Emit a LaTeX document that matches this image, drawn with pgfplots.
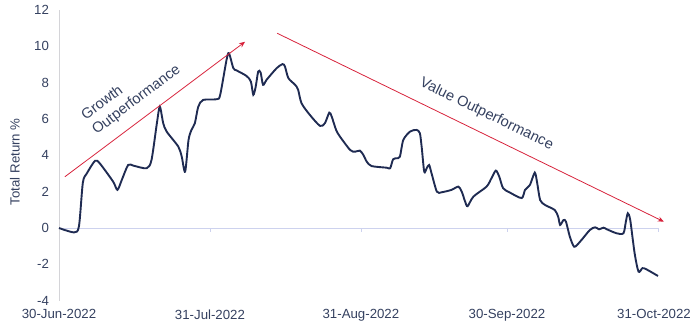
\documentclass[border=0pt]{standalone}
\usepackage{pgfplots}
\pgfplotsset{compat=1.18}
\usepackage{fontspec}
\setmainfont{Liberation Sans}
\usetikzlibrary{arrows.meta}
\definecolor{navy}{HTML}{1F2B52}
\definecolor{txt}{HTML}{34405F}
\definecolor{zl}{HTML}{CDD2EE}
\definecolor{yl}{HTML}{D4D4D8}
\definecolor{arr}{HTML}{D7223B}
\begin{document}
\begin{tikzpicture}
\path[use as bounding box] (-59bp,-25.3bp) rectangle (633bp,300.7bp);
\begin{axis}[
  scale only axis,
  width=599bp, height=290.7bp,
  xmin=0, xmax=123, ymin=-4, ymax=12,
  axis lines*=left,
  x axis line style={draw=none},
  y axis line style={draw=yl, line width=0.8pt},
  xtick={0,31,62,92,123},
  xticklabels={30-Jun-2022,31-Jul-2022,31-Aug-2022,30-Sep-2022,\kern-8bp 31-Oct-2022},
  ytick={-4,-2,0,2,4,6,8,10,12},
  major tick length=0pt,
  /pgf/number format/assume math mode=true,
  tick label style={font=\fontsize{13.3}{16}\selectfont, text=txt},
  yticklabel style={xshift=-6.5bp},
  xticklabel style={yshift=-5.5bp},
  every axis y label/.style={at={(axis description cs:-0.0735,0.478)}, rotate=90, anchor=center},
  ylabel={Total Return \%},
  ylabel style={font=\fontsize{13.3}{16}\selectfont, text=txt},
  clip=false,
]
\addplot[zl, line width=1pt] coordinates {(0,0) (123,0)};
\addplot[zl, line width=0.8pt, ycomb, no marks] coordinates {(31,-0.22) (62,-0.22) (92,-0.22) (123,-0.22)};
\addplot[navy, line width=1.9pt, smooth, tension=0.45, no marks] coordinates {
(0,0) (3.1,-0.24) (4.1,0.1) (4.9,2.5) (5.7,3.0) (7.4,3.7) (8.4,3.55) (11.1,2.56) (12.0,2.1) (12.9,2.65)
(14.2,3.47) (15.3,3.43) (18.0,3.29) (19.0,3.75) (20.1,5.77) (20.7,6.68) (21.4,5.77) (22.1,5.31) (24.5,4.48)
(25.2,3.93) (25.9,3.1) (26.6,4.85) (27.2,5.4) (27.9,5.77) (28.6,6.68) (29.6,7.05) (32.4,7.09) (33.1,7.33)
(34.4,9.25) (34.9,9.62) (35.8,8.8) (36.5,8.67) (38.5,8.37) (39.4,8.06) (39.9,7.33) (40.4,7.79) (40.9,8.61)
(41.4,8.56) (41.9,7.88) (42.6,8.15) (44.7,8.8) (45.9,9.02) (46.4,8.89) (47.1,8.25) (48.5,7.88) (49.1,7.61)
(49.8,6.87) (51.5,6.23) (53.6,5.62) (54.6,5.77) (55.5,6.35) (56.0,6.13) (56.9,5.4) (57.7,5.03) (59.8,4.29)
(60.8,4.2) (61.8,4.26) (62.5,4.02) (63.2,3.65) (64.2,3.41) (67.3,3.32) (68.0,3.29) (68.6,3.78) (69.3,3.84)
(70.0,3.93) (70.7,4.85) (72.1,5.31) (73.4,5.4) (74.1,5.22) (74.5,4.39) (75.0,3.1) (75.5,3.29) (76.0,3.47)
(76.5,3.01) (77.6,2.0) (78.6,1.97) (80.6,2.1) (82.0,2.28) (82.7,2.0) (83.4,1.45) (83.9,1.2) (85.1,1.73)
(87.8,2.28) (88.8,2.74) (89.7,3.16) (90.4,2.83) (91.2,2.19) (92.6,1.95) (95.0,1.65) (95.7,2.1) (96.7,2.37)
(97.7,3.05) (98.2,2.46) (98.8,1.54) (99.8,1.27) (101.8,0.99) (102.5,0.62) (102.9,0.17) (103.6,0.44)
(104.1,0.35) (104.9,-0.48) (105.8,-1.03) (107.0,-0.75) (109.0,-0.11) (110.1,0.04) (110.9,-0.07)
(111.8,0.02) (112.5,-0.07) (114.5,-0.29) (115.9,-0.29) (116.4,0.35) (116.8,0.81) (117.3,0.44)
(118.2,-1.39) (119.0,-2.4) (119.8,-2.21) (120.6,-2.27) (123,-2.64)
};
\addplot[arr, line width=0.8pt, -{Stealth[length=6bp,width=5bp]}] coordinates {(1.2,2.82) (38.2,10.25)};
\addplot[arr, line width=0.8pt, -{Stealth[length=6bp,width=5bp]}] coordinates {(44.8,10.72) (124.2,0.35)};
\node[rotate=37, align=left, text=txt, font=\fontsize{14.7}{18}\selectfont] at (axis cs:14.85,7.44) {Growth\\Outperformance};
\node[rotate=-26, text=txt, font=\fontsize{14.7}{18}\selectfont] at (axis cs:87.8,6.26) {Value Outperformance};
\end{axis}
\end{tikzpicture}
\end{document}
